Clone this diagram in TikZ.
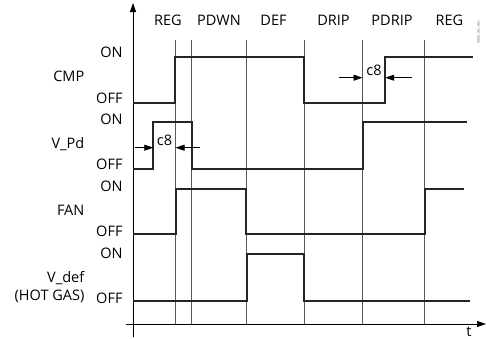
\documentclass[tikz,border=0pt]{standalone}
\usepackage{fontspec}
\setmainfont{Open Sans}
\usetikzlibrary{arrows.meta}
\begin{document}
\begin{tikzpicture}[x=1pt,y=-1pt,
  sig/.style={line width=2pt,black!85,line join=miter},
  grid/.style={line width=0.9pt,black!65},
  axis/.style={line width=1pt,black},
  dim/.style={line width=0.8pt,black,-{Triangle[length=9pt,width=6pt]}},
  lbl/.style={font=\fontsize{14.5}{17}\selectfont,inner sep=0pt},
  txt/.style={lbl,anchor=base east},
  hdr/.style={lbl,anchor=base}]
\useasboundingbox (0,0) rectangle (486,338);
% grid lines
\foreach \x/\n in {175/g1,191.7/g2,246.5/g3,304/g4,362.7/g5,424.5/g6}{
  \coordinate (\n t) at (\x,40);
  \coordinate (\n b) at (\x,324);
  \draw[grid] (\n t) -- (\n b);
}
% axes
\coordinate (yb) at (133,337);
\coordinate (yt) at (133,3);
\coordinate (xl) at (126,324);
\coordinate (xr) at (486,324);
\draw[axis,-{Triangle[length=9pt,width=6pt]}] (yb) -- (yt);
\draw[axis,-{Triangle[length=9pt,width=6pt]}] (xl) -- (xr);
\node[lbl,anchor=base] (t) at (469,336) {t};
% headers
\node[hdr] (h1) at (168,25) {REG};
\node[hdr] (h2) at (219,25) {PDWN};
\node[hdr] (h3) at (273.5,25) {DEF};
\node[hdr] (h4) at (333.5,25) {DRIP};
\node[hdr] (h5) at (392,25) {PDRIP};
\node[hdr] (h6) at (449.5,25) {REG};
% signal names
\node[txt] (n1) at (84.5,81) {CMP};
\node[txt] (n2) at (84.5,148) {V\_Pd};
\node[txt] (n3) at (84.5,215) {FAN};
\node[txt] (n4) at (84.5,282.5) {V\_def};
\node[txt] (n5) at (84.5,300) {(HOT GAS)};
% ON/OFF
\node[txt] (on1) at (122.7,57.7) {ON};
\node[txt] (off1) at (122.7,103.3) {OFF};
\node[txt] (on2) at (122.7,124.3) {ON};
\node[txt] (off2) at (122.7,169.3) {OFF};
\node[txt] (on3) at (122.7,191) {ON};
\node[txt] (off3) at (122.7,236.7) {OFF};
\node[txt] (on4) at (122.7,258.3) {ON};
\node[txt] (off4) at (122.7,303.5) {OFF};
% signals
\draw[sig] (133,102.7) -- (175,102.7) -- (175,56.7) -- (304,56.7) -- (304,102.7) -- (385,102.7) -- (385,56.7) -- (473.3,56.7);
\draw[sig] (133,168.7) -- (153,168.7) -- (153,122.3) -- (191.7,122.3) -- (191.7,168.7) -- (362.7,168.7) -- (362.7,122.3) -- (466.7,122.3);
\draw[sig] (133,234.3) -- (175.7,234.3) -- (175.7,189) -- (246,189) -- (246,234.3) -- (425,234.3) -- (425,189) -- (464,189);
\draw[sig] (133,300.7) -- (246.7,300.7) -- (246.7,254.3) -- (304.3,254.3) -- (304.3,300.7) -- (470,300.7);
% c8 dimensions
\coordinate (a1) at (135,147.7);
\coordinate (a1t) at (153.3,147.7);
\coordinate (a2) at (200,147.7);
\coordinate (a2t) at (175.5,147.7);
\draw[dim] (a1) -- (a1t);
\draw[dim] (a2) -- (a2t);
\node[hdr] (c1) at (164.5,145) {c8};
\coordinate (b1) at (338.5,77.7);
\coordinate (b1t) at (362.5,77.7);
\coordinate (b2) at (411.5,77.7);
\coordinate (b2t) at (385.2,77.7);
\draw[dim] (b1) -- (b1t);
\draw[dim] (b2) -- (b2t);
\node[hdr] (c2) at (374,75) {c8};
% figure code
\node[font=\fontsize{3.5}{4}\selectfont,text=black!60,rotate=-90,inner sep=0pt] (code) at (478.5,32) {108 1W1 0006};
\end{tikzpicture}
\end{document}
